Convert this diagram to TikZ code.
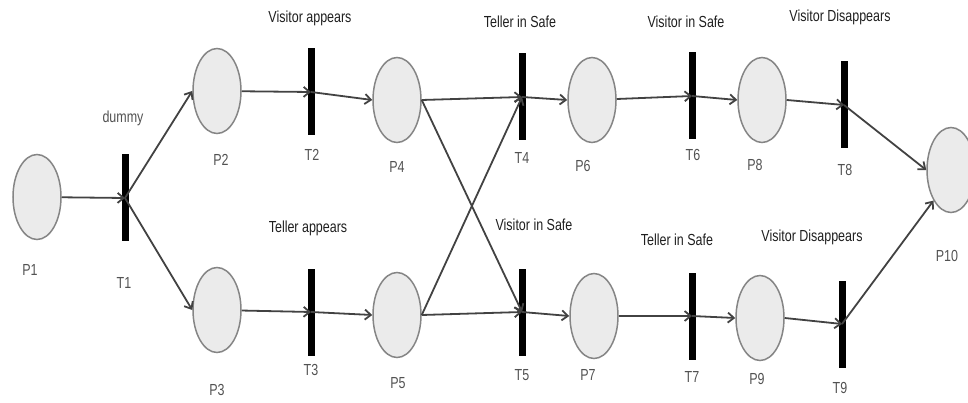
\documentclass[tikz,border=0pt]{standalone}
\usepackage{fontspec}
\setmainfont[FakeStretch=0.78]{Liberation Sans}
\usetikzlibrary{shapes.geometric,arrows.meta}
\definecolor{arccol}{HTML}{424242}
\tikzset{
  place/.style={ellipse,draw=black!48,line width=1.5pt,fill=black!8,
    minimum width=48pt,minimum height=85pt,inner sep=0pt},
  trans/.style={fill=black,minimum width=7pt,minimum height=87pt,inner sep=0pt},
  arc/.style={draw=arccol,line width=1.8pt,-{Straight Barb[length=6pt,width=10pt]}},
  lbl/.style={text=black!68,font=\fontsize{16}{16}\selectfont},
  tcap/.style={text=black!88,font=\fontsize{16}{16}\selectfont}
}
\begin{document}
\begin{tikzpicture}[x=1pt,y=-1pt]
\useasboundingbox(0,0)rectangle(968,403);
\clip(0,0)rectangle(968,403);
%places
\node[place](P1)at(37,197){};
\node[place](P2)at(217,91){};
\node[place](P3)at(217,310){};
\node[place](P4)at(397,100){};
\node[place](P5)at(397,315){};
\node[place](P6)at(592,100){};
\node[place](P7)at(594,316){};
\node[place](P8)at(762,100){};
\node[place](P9)at(760,318){};
\node[place](P10)at(951,170){};
%transitions
\node[trans](T1)at(125,198){};
\node[trans](T2)at(311,92){};
\node[trans](T3)at(311,312){};
\node[trans](T4)at(522,97){};
\node[trans](T5)at(522,312){};
\node[trans](T6)at(692,96){};
\node[trans](T7)at(692,316){};
\node[trans](T8)at(844,105){};
\node[trans](T9)at(842,324){};
%arcs
\draw[arc](P1)--(T1.center);
\draw[arc](T1.center)--(P2.west);
\draw[arc](T1.center)--(P3.west);
\draw[arc](P2)--(T2.center);
\draw[arc](P3)--(T3.center);
\draw[arc](T2.center)--(P4.west);
\draw[arc](T3.center)--(P5.west);
\draw[arc](P4.east)--(T4.center);
\draw[arc](P4.east)--(T5.center);
\draw[arc](P5.east)--(T4.center);
\draw[arc](P5.east)--(T5.center);
\draw[arc](T4.center)--(P6.west);
\draw[arc](T5.center)--(P7.west);
\draw[arc](P6)--(T6.center);
\draw[arc](P7)--(T7.center);
\draw[arc](T6.center)--(P8.west);
\draw[arc](T7.center)--(P9.west);
\draw[arc](P8.east)--(T8.center);
\draw[arc](P9.east)--(T9.center);
\draw[arc](T8.center)--(P10.west);
\draw[arc](T9.center)--(P10.south west);
%labels
\node[lbl](lP1)at(30,270){P1};
\node[lbl](lT1)at(124,283){T1};
\node[lbl](lP2)at(221,160){P2};
\node[lbl](lT2)at(312,155){T2};
\node[lbl](lP3)at(217,390){P3};
\node[lbl](lT3)at(311,370){T3};
\node[lbl](lP4)at(397,167){P4};
\node[lbl](lT4)at(522,158){T4};
\node[lbl](lP5)at(398,383){P5};
\node[lbl](lT5)at(522,375){T5};
\node[lbl](lP6)at(583,166){P6};
\node[lbl](lP7)at(588,375){P7};
\node[lbl](lT6)at(693,155){T6};
\node[lbl](lT7)at(692,377){T7};
\node[lbl](lP8)at(755,165){P8};
\node[lbl](lP9)at(757,379){P9};
\node[lbl](lT8)at(845,170){T8};
\node[lbl](lT9)at(840,388){T9};
\node[lbl](lP10)at(947,256){P10};
%captions
\node[lbl](cT1)at(123,118){dummy};
\node[tcap](cT2)at(310,18){Visitor appears};
\node[tcap](cT3)at(308,228){Teller appears};
\node[tcap](cT4)at(520,22){Teller in Safe};
\node[tcap](cT5)at(534,225){Visitor in Safe};
\node[tcap](cT6)at(686,22){Visitor in Safe};
\node[tcap](cT7)at(677,240){Teller in Safe};
\node[tcap](cT8)at(840,17){Visitor Disappears};
\node[tcap](cT9)at(812,237){Visitor Disappears};
\end{tikzpicture}
\end{document}
